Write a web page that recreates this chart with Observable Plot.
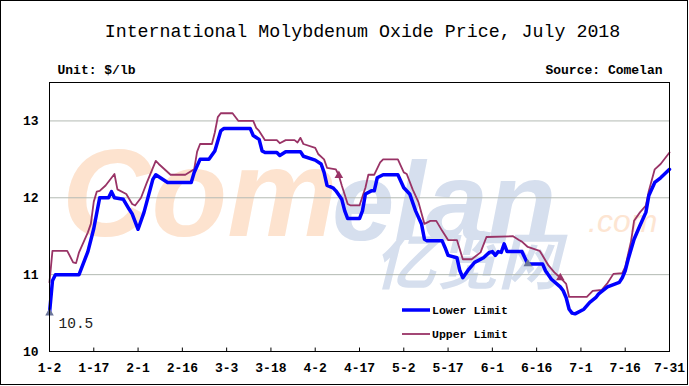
<!DOCTYPE html>
<html><head><meta charset="utf-8">
<script src="https://cdn.jsdelivr.net/npm/d3@7"></script>
<script src="https://cdn.jsdelivr.net/npm/@observablehq/plot@0.6"></script>
<style>body{margin:0;background:#fff} #chart{width:689px;height:386px}</style>
</head><body><div id="chart"></div>
<script>
const lowerDates = ["01-02","01-03","01-04","01-12","01-15","01-17","01-19","01-22","01-23","01-24","01-27","01-29","01-30","02-01","02-03","02-06","02-07","02-11","02-19","02-20","02-22","02-25","02-27","03-01","03-02","03-11","03-12","03-14","03-15","03-16","03-20","03-21","03-23","03-28","03-29","04-02","04-04","04-05","04-06","04-08","04-09","04-11","04-12","04-13","04-17","04-18","04-19","04-21","04-22","04-23","04-25","04-30","05-02","05-04","05-06","05-08","05-09","05-10","05-15","05-16","05-17","05-20","05-21","05-22","05-24","05-26","05-29","05-31","06-01","06-02","06-03","06-04","06-05","06-06","06-11","06-12","06-13","06-18","06-19","06-21","06-24","06-25","06-26","06-27","06-28","06-29","07-02","07-04","07-06","07-07","07-10","07-14","07-15","07-16","07-17","07-19","07-21","07-23","07-24","07-26","07-28","07-31"];
const lowerValues = [10.5,10.92,11.0,11.0,11.3,11.6,12.0,12.0,12.08,12.0,11.98,11.85,11.79,11.59,11.81,12.24,12.3,12.2,12.2,12.33,12.5,12.5,12.61,12.87,12.9,12.9,12.81,12.76,12.61,12.59,12.59,12.55,12.6,12.6,12.54,12.49,12.44,12.33,12.16,12.13,12.09,11.98,11.83,11.73,11.73,11.83,12.05,12.09,12.09,12.26,12.3,12.3,12.13,12.05,11.83,11.66,11.46,11.44,11.44,11.35,11.25,11.22,11.05,10.96,11.07,11.16,11.22,11.29,11.3,11.25,11.3,11.29,11.4,11.3,11.3,11.22,11.14,11.14,11.05,10.94,10.84,10.79,10.7,10.55,10.5,10.49,10.55,10.64,10.7,10.75,10.84,10.9,10.96,11.05,11.2,11.46,11.64,11.81,12.03,12.2,12.26,12.37];
const upperDates = ["01-02","01-03","01-08","01-10","01-11","01-12","01-15","01-16","01-17","01-18","01-19","01-21","01-24","01-25","01-28","01-30","01-31","02-02","02-04","02-07","02-08","02-12","02-17","02-20","02-21","02-22","02-26","02-27","02-28","03-01","03-05","03-07","03-12","03-13","03-14","03-16","03-20","03-21","03-23","03-26","03-27","03-28","03-29","04-02","04-03","04-05","04-06","04-09","04-10","04-11","04-13","04-14","04-17","04-19","04-20","04-22","04-24","04-25","04-30","05-02","05-03","05-05","05-07","05-09","05-11","05-13","05-15","05-17","05-20","05-22","05-25","05-28","05-30","06-08","06-10","06-11","06-13","06-17","06-18","06-20","06-22","06-24","06-26","06-27","07-03","07-05","07-08","07-10","07-12","07-15","07-16","07-18","07-19","07-21","07-23","07-24","07-26","07-28","07-31"];
const upperValues = [10.9,11.31,11.31,11.16,11.15,11.29,11.55,11.66,11.95,12.08,12.09,12.16,12.31,12.11,12.05,11.92,11.9,12.0,12.2,12.48,12.44,12.3,12.3,12.37,12.6,12.7,12.7,12.85,13.05,13.1,13.1,13.0,13.0,12.91,12.87,12.75,12.75,12.71,12.75,12.75,12.72,12.78,12.7,12.65,12.57,12.5,12.39,12.37,12.29,12.16,11.92,11.9,11.9,12.13,12.3,12.3,12.46,12.5,12.5,12.33,12.31,12.11,11.94,11.66,11.7,11.7,11.57,11.45,11.45,11.2,11.2,11.29,11.49,11.5,11.45,11.43,11.36,11.31,11.25,11.12,11.03,10.96,10.88,10.71,10.71,10.79,10.8,10.89,11.01,11.02,11.1,11.44,11.7,11.81,11.9,12.09,12.37,12.44,12.59];
const tickDates = ["01-02","01-17","02-01","02-16","03-03","03-18","04-02","04-17","05-02","05-17","06-01","06-16","07-01","07-16","07-31"];
const yTicks = [10, 11, 12, 13];
const gridTicks = [11, 12, 13];
const lowerMarkers = ["01-02", "06-13"];
const upperMarkers = ["04-10", "06-24"];
const seriesNames = ["Lower Limit", "Upper Limit"];
const title = "International Molybdenum Oxide Price, July 2018";
const unitText = "Unit: $/lb";
const sourceText = "Source: Comelan";
const startLabel = "10.5";

const parse = s => new Date(`2018-${s}T00:00:00Z`);
const lower = lowerDates.map((d, i) => ({key: d, date: parse(d), value: lowerValues[i]}));
const upper = upperDates.map((d, i) => ({key: d, date: parse(d), value: upperValues[i]}));
const fmt = d => `${d.getUTCMonth() + 1}-${d.getUTCDate()}`;
const mono = "'Liberation Mono', 'DejaVu Sans Mono', monospace";
const BLUE = "#0000ff", MAROON = "#993366";

const chart = Plot.plot({
  width: 689, height: 386,
  marginLeft: 49, marginRight: 20, marginTop: 82, marginBottom: 35,
  style: {background: "#fff", color: "#000", fontFamily: mono, overflow: "visible"},
  x: {type: "utc", domain: [parse("01-02"), parse("07-31")], label: null},
  y: {domain: [10, 13.5], label: null},
  marks: [
    Plot.gridY(gridTicks, {stroke: "#b3bab3", strokeOpacity: 1}),
    Plot.ruleX(tickDates.map(parse), {y1: 10, y2: 10.045, stroke: "#000"}),
    Plot.axisX(tickDates.map(parse), {tickSize: 0, tickPadding: 11, tickFormat: fmt, fontWeight: "bold", fontSize: 13, fontFamily: mono}),
    Plot.axisY(yTicks, {tickSize: 0, tickPadding: 11, tickFormat: d => String(d), fontWeight: "bold", fontSize: 13, fontFamily: mono}),
    Plot.line(upper, {x: "date", y: "value", stroke: MAROON, strokeWidth: 1.8}),
    Plot.line(lower, {x: "date", y: "value", stroke: BLUE, strokeWidth: 3.5}),
    Plot.dot(lower.filter(d => lowerMarkers.includes(d.key)), {x: "date", y: "value", symbol: "triangle", r: 3.2, fill: "#6a7599", stroke: "none"}),
    Plot.dot(upper.filter(d => upperMarkers.includes(d.key)), {x: "date", y: "value", symbol: "triangle", r: 3.2, fill: MAROON, stroke: "none"}),
    Plot.text([lower[0]], {x: "date", y: "value", text: () => startLabel, dx: 9, dy: 10, textAnchor: "start", fontSize: 14.5, fontFamily: mono, fill: "#222"}),
    Plot.frame({stroke: "#000", strokeWidth: 1}),
    Plot.text([title], {frameAnchor: "top", lineAnchor: "middle", text: d => d, dy: -51, dx: 3, fontSize: 18.3, fontFamily: mono}),
    Plot.text([unitText], {frameAnchor: "top-left", lineAnchor: "middle", text: d => d, dy: -13, dx: 8, textAnchor: "start", fontSize: 13, fontWeight: "bold", fontFamily: mono}),
    Plot.text([sourceText], {frameAnchor: "top-right", lineAnchor: "middle", text: d => d, dy: -13, dx: -7, textAnchor: "end", fontSize: 13, fontWeight: "bold", fontFamily: mono})
  ]
});

const svg = d3.select(chart);
// watermark (decorative), behind everything
const wm = svg.insert("g", "g").attr("pointer-events", "none").attr("text-anchor", "start");
const sans = "'Liberation Sans', Arial, sans-serif";
wm.append("text").attr("x", 62).attr("y", 236).text("Com")
  .attr("font-family", sans).attr("font-weight", "bold").attr("font-style", "italic")
  .attr("font-size", 124).attr("fill", "#fde3cf");
const wt = wm.append("text").attr("fill", "#d6dfee");
wt.append("tspan").attr("x", 332).attr("y", 240).text("elan")
  .attr("font-family", sans).attr("font-weight", "bold").attr("font-style", "italic").attr("font-size", 112);
wt.append("tspan").attr("x", 374).attr("y", 284).text("亿览网")
  .attr("font-family", "'Noto Sans CJK SC', sans-serif").attr("font-weight", "bold").attr("font-style", "italic").attr("font-size", 62);
wm.append("text").attr("x", 588).attr("y", 232).text(".com")
  .attr("font-family", sans).attr("font-style", "italic")
  .attr("font-size", 32).attr("fill", "#fde5d2");

// legend
const lg = svg.append("g").attr("font-family", mono).attr("font-weight", "bold").attr("font-size", 11.5).attr("text-anchor", "start");
[[BLUE, 3.5, 310], [MAROON, 1.8, 334]].forEach(([c, w, y], i) => {
  lg.append("line").attr("x1", 402).attr("x2", 430).attr("y1", y).attr("y2", y).attr("stroke", c).attr("stroke-width", w);
  lg.append("text").attr("x", 432).attr("y", y).attr("dy", "0.35em").text(seriesNames[i]);
});
// outer border
svg.append("rect").attr("x", 0.5).attr("y", 0.5).attr("width", 687).attr("height", 384)
  .attr("fill", "none").attr("stroke", "#000");

document.getElementById("chart").appendChild(chart);
</script>
</body></html>
